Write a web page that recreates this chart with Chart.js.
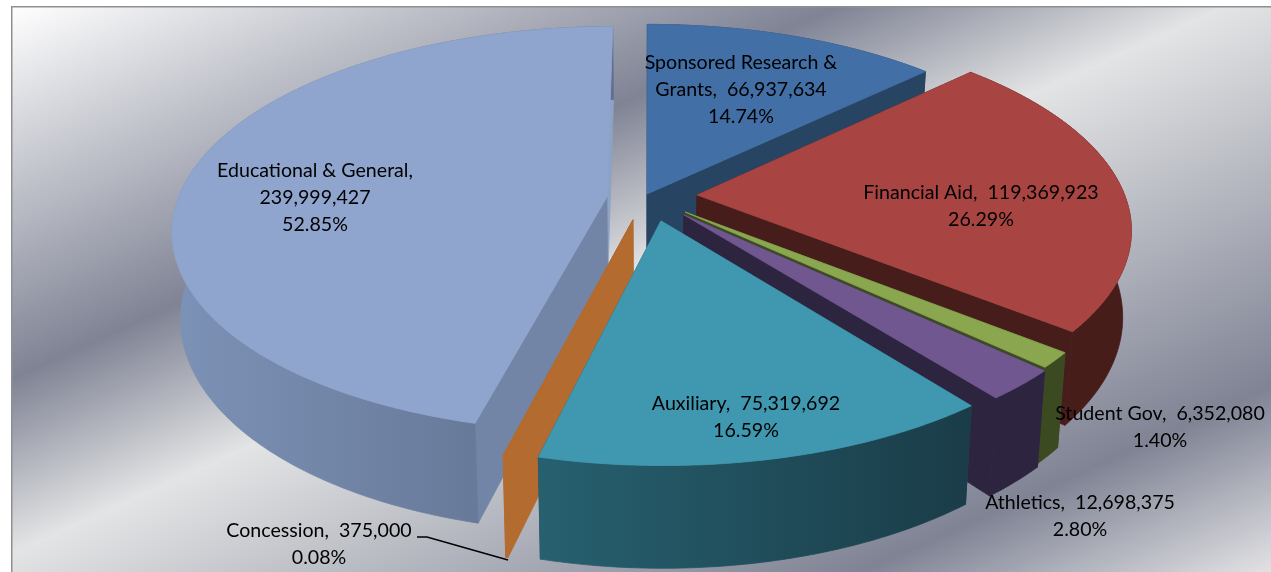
<!DOCTYPE html>
<html>
<head>
<meta charset="utf-8">
<style>html,body{margin:0;padding:0;background:#fff;overflow:hidden}canvas{display:block}</style>
<script src="https://cdn.jsdelivr.net/npm/chart.js@4"></script>
</head>
<body>
<canvas id="c" width="1271" height="572"></canvas>
<script>
const categories = ["Sponsored Research & Grants","Financial Aid","Student Gov","Athletics","Auxiliary","Concession","Educational & General"];
const values = [66937634,119369923,6352080,12698375,75319692,375000,239999427];
const percents = ["14.74%","26.29%","1.40%","2.80%","16.59%","0.08%","52.85%"];
const topColors = ["#4270a6","#a84542","#8aa64f","#71578f","#4098b0","#b36b30","#90a5cd"];
const startWallColors = ["#274463","#461d1a","#3c4a22","#2d2440","#1f4a58","#b36b30","#7385a7"];
const endWallColors = ["#274463","#461d1a","#3c4a22","#2d2440","#1f4a58","#b36b30","#8da2c7"];
const curveWallColors = [["#274463","#274463"],["#471d1a","#471d1a"],["#3c4a22","#3c4a22"],["#2d2440","#2d2440"],["#27606f","#1a3c48"],["#b36b30","#b36b30"],["#7c92b6","#5f6f8d"]];
const explodeSide = [-0.007,0.110,0.081,0.078,0.025,-0.039,-0.1006];
const explodeDepth = [0.0555,0.0504,-0.0349,-0.0488,-0.078,-0.0732,0.0403];
const paintOrder = [0,6,1,2,3,5,4];
const wrapAfter = ["Research & ",null,null,null,null,null,"General,  "];
const labelCenterX = [741,981,1160,1080,746,319,315];
const labelFirstY = [63,193,414,503,404,531,171];

const view = {cx:650, cy:205, a:431, b:200, k:0.16, h:85, s:0.982};

function project(X, F, low){
  const w = 1/(1+view.k*F);
  let x = view.a*X*w, y = view.b*F*w;
  if(low) x *= view.s;
  return [view.cx+x, view.cy-y+(low?view.h*w:0)];
}
function poly(ctx, pts, fill){
  ctx.beginPath();
  pts.forEach((p,i)=> i?ctx.lineTo(p[0],p[1]):ctx.moveTo(p[0],p[1]));
  ctx.closePath();
  ctx.fillStyle = fill; ctx.strokeStyle = fill; ctx.lineWidth = 0.8;
  ctx.fill(); ctx.stroke();
}
const pie3d = {
  id:'pie3d',
  beforeDraw(chart){
    const ctx = chart.ctx;
    ctx.save();
    ctx.fillStyle = '#fff'; ctx.fillRect(0,0,1271,572);
    const g = ctx.createLinearGradient(11,6,434,945);
    g.addColorStop(0,'#ffffff');
    g.addColorStop(0.33,'#7f8394');
    g.addColorStop(0.485,'#e3e4e5');
    g.addColorStop(0.84,'#7f8394');
    g.addColorStop(1,'#e0e0e3');
    ctx.fillStyle = g; ctx.fillRect(11,6,1260,566);
    ctx.fillStyle = '#8f8f8f';
    ctx.fillRect(11,6,1260,1.5); ctx.fillRect(11,6,1.5,566);
    ctx.restore();
  },
  beforeDatasetsDraw(chart){
    const ctx = chart.ctx, arcs = chart.getDatasetMeta(0).data;
    ctx.save();
    paintOrder.forEach(i=>{
      const t0 = arcs[i].startAngle+Math.PI/2, t1 = arcs[i].endAngle+Math.PI/2;
      const ex = explodeSide[i], ef = explodeDepth[i];
      const n = Math.max(2,Math.ceil((t1-t0)/0.01));
      const pt = (t,low)=>project(ex+Math.sin(t),ef+Math.cos(t),low);
      const topEdge=[],lowEdge=[];
      for(let j=0;j<=n;j++){const t=t0+(t1-t0)*j/n; topEdge.push(pt(t,false)); lowEdge.push(pt(t,true));}
      const at=project(ex,ef,false), al=project(ex,ef,true);
      poly(ctx,[at,topEdge[n],lowEdge[n],al],endWallColors[i]);
      poly(ctx,[at,topEdge[0],lowEdge[0],al],startWallColors[i]);
      const xs = topEdge.concat(lowEdge).map(p=>p[0]);
      const lg = ctx.createLinearGradient(Math.min(...xs),0,Math.max(...xs),0);
      lg.addColorStop(0,curveWallColors[i][0]); lg.addColorStop(1,curveWallColors[i][1]);
      poly(ctx,topEdge.concat(lowEdge.slice().reverse()),lg);
      poly(ctx,[at].concat(topEdge),topColors[i]);
    });
    ctx.restore();
    return false;
  },
  afterDraw(chart){
    const ctx = chart.ctx;
    ctx.save();
    ctx.strokeStyle='#000'; ctx.lineWidth=1.5;
    ctx.beginPath(); ctx.moveTo(417,537); ctx.lineTo(427,537); ctx.lineTo(508,560); ctx.stroke();
    ctx.fillStyle='#000'; ctx.textAlign='center'; ctx.textBaseline='middle';
    ctx.font='19.6px Lato';
    categories.forEach((c,i)=>{
      let s = c+",  "+values[i].toLocaleString('en-US');
      if(wrapAfter[i]) s = s.replace(wrapAfter[i],wrapAfter[i].trimEnd()+"\n");
      const lines = s.split("\n").concat([percents[i]]);
      lines.forEach((l,j)=>ctx.fillText(l,labelCenterX[i],labelFirstY[i]+j*27));
    });
    ctx.restore();
  }
};
new Chart(document.getElementById('c'),{
  type:'pie',
  data:{labels:categories,datasets:[{data:values,backgroundColor:topColors,borderWidth:0}]},
  options:{responsive:false,animation:false,rotation:0,circumference:360,
    plugins:{legend:{display:false},tooltip:{enabled:false}}},
  plugins:[pie3d]
});
</script>
</body>
</html>
